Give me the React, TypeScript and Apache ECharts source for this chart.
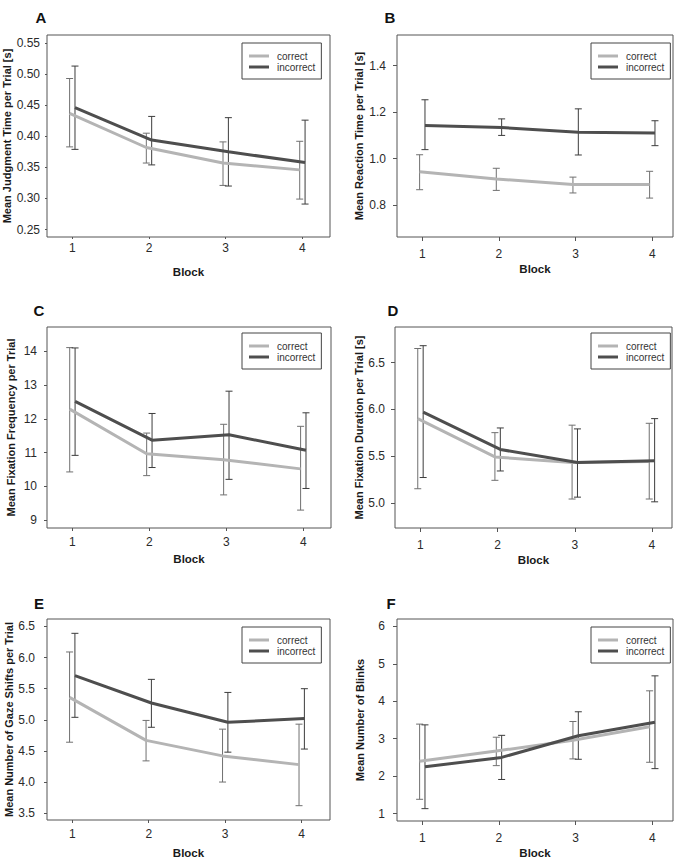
import React, { useEffect, useRef } from "react";
import * as echarts from "echarts";

// Blocks on the x axis
const blocks = [1, 2, 3, 4];
const blockTicks = [1, 2, 3, 4];

// A: judgment time [s]
const judgCorrect = [0.437, 0.382, 0.357, 0.346];
const judgCorrectLow = [0.383, 0.357, 0.321, 0.299];
const judgCorrectHigh = [0.493, 0.405, 0.391, 0.392];
const judgIncorrect = [0.446, 0.394, 0.375, 0.358];
const judgIncorrectLow = [0.379, 0.354, 0.32, 0.291];
const judgIncorrectHigh = [0.513, 0.432, 0.43, 0.426];
const judgTicks = [0.25, 0.3, 0.35, 0.4, 0.45, 0.5, 0.55];

// B: reaction time [s]
const reactCorrect = [0.944, 0.913, 0.889, 0.889];
const reactCorrectLow = [0.867, 0.864, 0.853, 0.831];
const reactCorrectHigh = [1.017, 0.959, 0.921, 0.946];
const reactIncorrect = [1.143, 1.134, 1.114, 1.11];
const reactIncorrectLow = [1.039, 1.1, 1.016, 1.056];
const reactIncorrectHigh = [1.253, 1.171, 1.214, 1.163];
const reactTicks = [0.8, 1.0, 1.2, 1.4];

// C: fixation frequency
const freqCorrect = [12.29, 10.97, 10.79, 10.52];
const freqCorrectLow = [10.43, 10.32, 9.75, 9.3];
const freqCorrectHigh = [14.11, 11.58, 11.84, 11.78];
const freqIncorrect = [12.52, 11.37, 11.53, 11.07];
const freqIncorrectLow = [10.92, 10.56, 10.21, 9.94];
const freqIncorrectHigh = [14.1, 12.16, 12.82, 12.18];
const freqTicks = [9, 10, 11, 12, 13, 14];

// D: fixation duration [s]
const durCorrect = [5.9, 5.49, 5.43, 5.44];
const durCorrectLow = [5.15, 5.24, 5.04, 5.04];
const durCorrectHigh = [6.65, 5.75, 5.83, 5.85];
const durIncorrect = [5.97, 5.57, 5.43, 5.45];
const durIncorrectLow = [5.27, 5.34, 5.06, 5.01];
const durIncorrectHigh = [6.68, 5.8, 5.79, 5.9];
const durTicks = [5.0, 5.5, 6.0, 6.5];

// E: gaze shifts
const gazeCorrect = [5.36, 4.67, 4.42, 4.28];
const gazeCorrectLow = [4.64, 4.34, 4.0, 3.62];
const gazeCorrectHigh = [6.09, 4.99, 4.85, 4.93];
const gazeIncorrect = [5.71, 5.27, 4.96, 5.02];
const gazeIncorrectLow = [5.04, 4.88, 4.48, 4.53];
const gazeIncorrectHigh = [6.39, 5.65, 5.44, 5.5];
const gazeTicks = [3.5, 4.0, 4.5, 5.0, 5.5, 6.0, 6.5];

// F: blinks
const blinkCorrect = [2.4, 2.67, 2.96, 3.32];
const blinkCorrectLow = [1.38, 2.28, 2.46, 2.37];
const blinkCorrectHigh = [3.39, 3.04, 3.46, 4.28];
const blinkIncorrect = [2.25, 2.5, 3.08, 3.44];
const blinkIncorrectLow = [1.13, 1.91, 2.45, 2.2];
const blinkIncorrectHigh = [3.37, 3.09, 3.72, 4.68];
const blinkTicks = [1, 2, 3, 4, 5, 6];

const FONT = '"Liberation Sans", Arial, Helvetica, sans-serif';
const CORRECT_LINE = "#b4b4b4";
const INCORRECT_LINE = "#4e4e4e";
const CORRECT_BAR = "#707070";
const INCORRECT_BAR = "#3c3c3c";
const OFFSET = 0.035;

const panels = [
  {
    letter: "A", yName: "Mean Judgment Time per Trial [s]",
    c: [judgCorrect, judgCorrectLow, judgCorrectHigh],
    i: [judgIncorrect, judgIncorrectLow, judgIncorrectHigh],
    ticks: judgTicks, dec: 2, yMin: 0.238, yMax: 0.563, xMax: 4.36,
    grid: { left: 47, top: 35, width: 283, height: 202 },
    yNameGap: 34, yLabelMargin: 7, tickLen: 2, xLabelMargin: 3, xNameGap: 29,
    letterPos: [41, 17], legendPos: [242, 43],
  },
  {
    letter: "B", yName: "Mean Reaction Time per Trial [s]",
    c: [reactCorrect, reactCorrectLow, reactCorrectHigh],
    i: [reactIncorrect, reactIncorrectLow, reactIncorrectHigh],
    ticks: reactTicks, dec: 1, yMin: 0.664, yMax: 1.531, xMax: 4.27,
    grid: { left: 397, top: 35, width: 276, height: 202 },
    yNameGap: 33, yLabelMargin: 11, tickLen: 4, xLabelMargin: 7, xNameGap: 26,
    letterPos: [390, 17], legendPos: [591, 43],
  },
  {
    letter: "C", yName: "Mean Fixation Frequency per Trial",
    c: [freqCorrect, freqCorrectLow, freqCorrectHigh],
    i: [freqIncorrect, freqIncorrectLow, freqIncorrectHigh],
    ticks: freqTicks, dec: 0, yMin: 8.77, yMax: 14.72, xMax: 4.36,
    grid: { left: 47, top: 327, width: 284, height: 201 },
    yNameGap: 31, yLabelMargin: 10, tickLen: 3, xLabelMargin: 5, xNameGap: 25,
    letterPos: [39, 310], legendPos: [242, 333],
  },
  {
    letter: "D", yName: "Mean Fixation Duration per Trial [s]",
    c: [durCorrect, durCorrectLow, durCorrectHigh],
    i: [durIncorrect, durIncorrectLow, durIncorrectHigh],
    ticks: durTicks, dec: 1, yMin: 4.73, yMax: 6.88, xMax: 4.26,
    grid: { left: 395, top: 327, width: 277, height: 201 },
    yNameGap: 31, yLabelMargin: 10, tickLen: 4, xLabelMargin: 7, xNameGap: 26,
    letterPos: [393, 310], legendPos: [591, 333],
  },
  {
    letter: "E", yName: "Mean Number of Gaze Shifts per Trial",
    c: [gazeCorrect, gazeCorrectLow, gazeCorrectHigh],
    i: [gazeIncorrect, gazeIncorrectLow, gazeIncorrectHigh],
    ticks: gazeTicks, dec: 1, yMin: 3.39, yMax: 6.62, xMax: 4.37,
    grid: { left: 47, top: 619, width: 283, height: 201 },
    yNameGap: 33, yLabelMargin: 12, tickLen: 3, xLabelMargin: 5, xNameGap: 27,
    letterPos: [39, 603], legendPos: [242, 627],
  },
  {
    letter: "F", yName: "Mean Number of Blinks",
    c: [blinkCorrect, blinkCorrectLow, blinkCorrectHigh],
    i: [blinkIncorrect, blinkIncorrectLow, blinkIncorrectHigh],
    ticks: blinkTicks, dec: 0, yMin: 0.8, yMax: 6.2, xMax: 4.27,
    grid: { left: 397, top: 619, width: 276, height: 202 },
    yNameGap: 32, yLabelMargin: 12, tickLen: 4, xLabelMargin: 7, xNameGap: 26,
    letterPos: [391, 603], legendPos: [591, 627],
  },
];

function errorBarRenderer(color: string) {
  return (_params: any, api: any) => {
    const x = api.value(0);
    const lo = api.value(1);
    const hi = api.value(2);
    const top = api.coord([x, hi]);
    const bot = api.coord([x, lo]);
    const w = 3.5;
    const style = { stroke: color, lineWidth: 1 };
    return {
      type: "group",
      children: [
        { type: "line", shape: { x1: top[0], y1: top[1], x2: bot[0], y2: bot[1] }, style },
        { type: "line", shape: { x1: top[0] - w, y1: top[1], x2: top[0] + w, y2: top[1] }, style },
        { type: "line", shape: { x1: bot[0] - w, y1: bot[1], x2: bot[0] + w, y2: bot[1] }, style },
      ],
    };
  };
}

function buildOption() {
  const grids: any[] = [];
  const xAxes: any[] = [];
  const yAxes: any[] = [];
  const series: any[] = [];
  const legends: any[] = [];
  const graphics: any[] = [];

  panels.forEach((p, idx) => {
    grids.push({
      ...p.grid,
      show: true,
      borderColor: "#555",
      borderWidth: 1,
      backgroundColor: "transparent",
      containLabel: false,
    });
    xAxes.push({
      type: "value",
      gridIndex: idx,
      min: 0.67,
      max: p.xMax,
      axisLine: { show: false },
      splitLine: { show: false },
      axisTick: {
        show: true,
        customValues: blockTicks,
        length: p.tickLen,
        lineStyle: { color: "#555", width: 1 },
      },
      axisLabel: {
        customValues: blockTicks,
        margin: p.xLabelMargin + p.tickLen,
        fontFamily: FONT,
        fontSize: 12,
        color: "#2a2a2a",
      },
      name: "Block",
      nameLocation: "middle",
      nameGap: p.xNameGap,
      nameTextStyle: { fontFamily: FONT, fontSize: 11.5, fontWeight: "bold", color: "#1a1a1a" },
    });
    yAxes.push({
      type: "value",
      gridIndex: idx,
      min: p.yMin,
      max: p.yMax,
      axisLine: { show: false },
      splitLine: { show: false },
      axisTick: {
        show: true,
        customValues: p.ticks,
        length: p.tickLen,
        lineStyle: { color: "#555", width: 1 },
      },
      axisLabel: {
        customValues: p.ticks,
        margin: p.yLabelMargin,
        fontFamily: FONT,
        fontSize: 12,
        color: "#2a2a2a",
        formatter: (v: number) => v.toFixed(p.dec),
      },
      name: p.yName,
      nameLocation: "middle",
      nameGap: p.yNameGap,
      nameTextStyle: { fontFamily: FONT, fontSize: 11, fontWeight: "bold", color: "#1a1a1a" },
    });

    const [cMean, cLow, cHigh] = p.c;
    const [iMean, iLow, iHigh] = p.i;

    series.push({
      type: "custom",
      name: "correct error",
      xAxisIndex: idx,
      yAxisIndex: idx,
      z: 2,
      renderItem: errorBarRenderer(CORRECT_BAR),
      encode: { x: 0, y: [1, 2] },
      data: blocks.map((b, k) => [b - OFFSET, cLow[k], cHigh[k]]),
    });
    series.push({
      type: "custom",
      name: "incorrect error",
      xAxisIndex: idx,
      yAxisIndex: idx,
      z: 2,
      renderItem: errorBarRenderer(INCORRECT_BAR),
      encode: { x: 0, y: [1, 2] },
      data: blocks.map((b, k) => [b + OFFSET, iLow[k], iHigh[k]]),
    });
    series.push({
      type: "line",
      name: "correct",
      xAxisIndex: idx,
      yAxisIndex: idx,
      z: 3,
      color: CORRECT_LINE,
      symbol: "none",
      showSymbol: false,
      lineStyle: { color: CORRECT_LINE, width: 3 },
      data: blocks.map((b, k) => [b - OFFSET, cMean[k]]),
    });
    series.push({
      type: "line",
      name: "incorrect",
      xAxisIndex: idx,
      yAxisIndex: idx,
      z: 4,
      color: INCORRECT_LINE,
      symbol: "none",
      showSymbol: false,
      lineStyle: { color: INCORRECT_LINE, width: 3 },
      data: blocks.map((b, k) => [b + OFFSET, iMean[k]]),
    });

    legends.push({
      data: ["correct", "incorrect"],
      orient: "vertical",
      left: p.legendPos[0],
      top: p.legendPos[1],
      icon: "rect",
      itemWidth: 20,
      itemHeight: 3,
      itemGap: 1,
      padding: [8, 6, 7, 7],
      borderColor: "#444",
      borderWidth: 1,
      backgroundColor: "#fff",
      selectedMode: false,
      textStyle: { fontFamily: FONT, fontSize: 10, color: "#333", padding: [0, 0, 0, 3] },
    });

    graphics.push({
      type: "text",
      x: p.letterPos[0],
      y: p.letterPos[1],
      style: {
        text: p.letter,
        font: `bold 15px ${FONT}`,
        fill: "#111",
        align: "center",
        verticalAlign: "middle",
        textAlign: "center",
        textVerticalAlign: "middle",
      },
    });
  });

  return {
    animation: false,
    backgroundColor: "#fff",
    grid: grids,
    xAxis: xAxes,
    yAxis: yAxes,
    legend: legends,
    series,
    graphic: graphics,
  };
}

export default function App() {
  const ref = useRef<HTMLDivElement>(null);
  useEffect(() => {
    if (!ref.current) return;
    const chart = echarts.init(ref.current, null, { renderer: "svg" });
    chart.setOption(buildOption() as any);
    return () => chart.dispose();
  }, []);
  return (
    <div
      ref={ref}
      style={{ position: "absolute", left: 0, top: 0, width: 685, height: 867, background: "#fff" }}
    />
  );
}
